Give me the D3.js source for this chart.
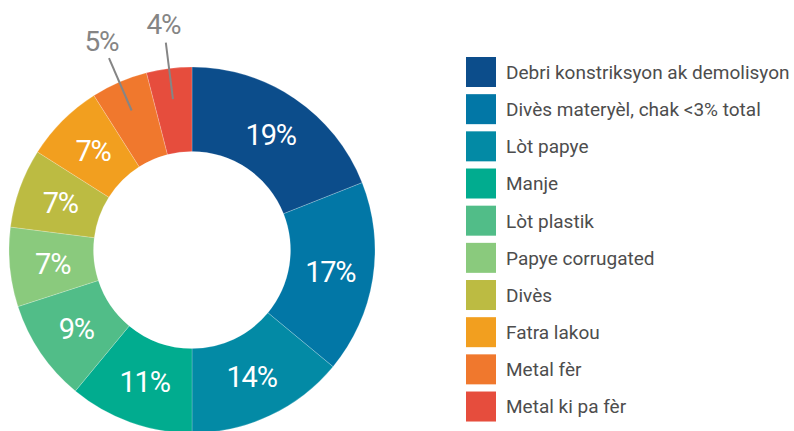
<!DOCTYPE html>
<html lang="ht">
<head>
<meta charset="UTF-8">
<title>Donut</title>
<script src="https://cdn.jsdelivr.net/npm/d3@7"></script>
<style>
body{margin:0;background:#fff;font-family:Roboto,"Noto Sans",sans-serif}
</style>
</head>
<body>
<div id="grafica"></div>
<script>
// data
var kategori=['Debri konstriksyon ak demolisyon','Divès materyèl, chak <3% total','Lòt papye','Manje','Lòt plastik','Papye corrugated','Divès','Fatra lakou','Metal fèr','Metal ki pa fèr']
var pousantaj=[19,17,14,11,9,7,7,7,5,4]
var koule=['#0C4D8B','#0277A6','#038AA5','#01AC8F','#51BD88','#8ACA7D','#BCBB42','#F29F1F','#F0782D','#E64D3D']
var deyo=['Metal fèr','Metal ki pa fèr'] // labels drawn outside

var ancho=794, alto=431
var cx=192, cy=250, rOut=183, rIn=98.5

var svg=d3.select('#grafica').append('svg')
	.attr('width',ancho)
	.attr('height',alto)

var datos=kategori.map(function(k,i){return {nom:k,val:pousantaj[i]}})
var color=d3.scaleOrdinal().domain(kategori).range(koule)

var pie=d3.pie().sort(null).value(function(d){return d.val})
var arcs=pie(datos)
var arc=d3.arc().innerRadius(rIn).outerRadius(rOut)
var mid=function(d){return (d.startAngle+d.endAngle)/2}
var pt=function(a,r){return [Math.sin(a)*r,-Math.cos(a)*r]}

var g=svg.append('g').attr('transform','translate('+cx+','+cy+')')

// slices
g.selectAll('path').data(arcs).enter()
	.append('path')
	.attr('d',arc)
	.attr('fill',function(d){return color(d.data.nom)})
	.attr('stroke','#fff')
	.attr('stroke-opacity',0.35)
	.attr('stroke-width',0.6)

// inside labels
g.selectAll('text.in').data(arcs.filter(function(d){return deyo.indexOf(d.data.nom)<0})).enter()
	.append('text')
	.attr('class','in')
	.attr('x',function(d){return pt(mid(d),140)[0]})
	.attr('y',function(d){return pt(mid(d),140)[1]})
	.attr('dy','0.36em')
	.attr('text-anchor','middle')
	.attr('fill','#fff')
	.style('font-size','29px')
	.style('letter-spacing','-1.2px')
	.text(function(d){return d.data.val+'%'})

// outside labels + leader lines
var fuera=arcs.filter(function(d){return deyo.indexOf(d.data.nom)>=0})
g.selectAll('line.lead').data(fuera).enter()
	.append('line')
	.attr('class','lead')
	.attr('x1',function(d){return pt(mid(d),152)[0]})
	.attr('y1',function(d){return pt(mid(d),152)[1]})
	.attr('x2',function(d){return pt(mid(d),209)[0]})
	.attr('y2',function(d){return pt(mid(d),209)[1]})
	.attr('stroke','#858585')
	.attr('stroke-width',2)
g.selectAll('text.out').data(fuera).enter()
	.append('text')
	.attr('class','out')
	.attr('x',function(d){return pt(mid(d),228)[0]})
	.attr('y',function(d){return pt(mid(d),228)[1]})
	.attr('dy','0.36em')
	.attr('text-anchor','middle')
	.attr('fill','#858585')
	.style('font-size','28px')
	.style('letter-spacing','-1.2px')
	.text(function(d){return d.data.val+'%'})

// legend
var ly=d3.scaleBand().domain(kategori).range([57,422]).paddingInner(0.18)
var leg=svg.append('g').selectAll('g').data(kategori).enter()
	.append('g')
	.attr('transform',function(d){return 'translate(466,'+ly(d)+')'})
leg.append('rect')
	.attr('width',30)
	.attr('height',30)
	.attr('fill',function(d){return color(d)})
leg.append('text')
	.attr('x',40)
	.attr('y',15)
	.attr('dy','0.36em')
	.attr('fill','#4d4d4d')
	.style('font-size','19px')
	.text(function(d){return d})
</script>
</body>
</html>
